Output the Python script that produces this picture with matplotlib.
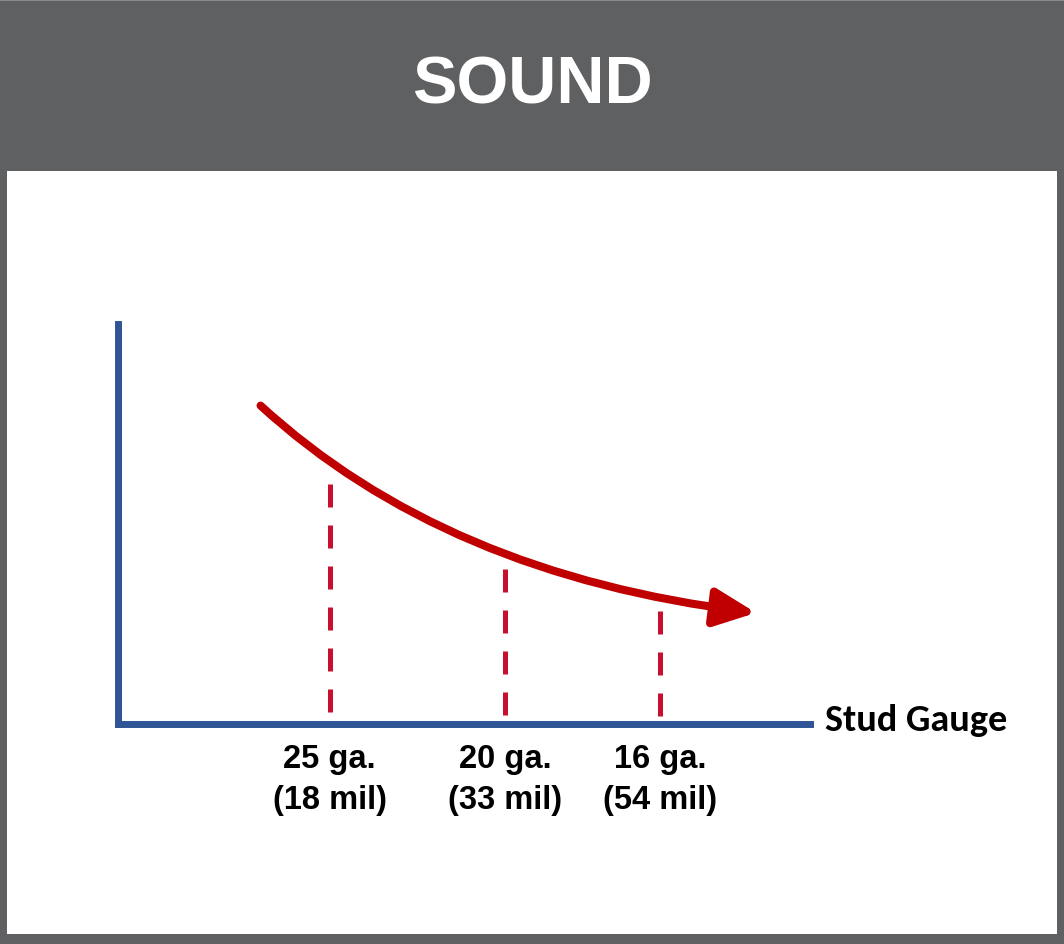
import numpy as np
import matplotlib
matplotlib.use('Agg')
import matplotlib.pyplot as plt
from matplotlib.path import Path
from matplotlib.patches import FancyArrowPatch, Rectangle

# --- Data (axis units 0-100)
title = 'SOUND'
xlabel = 'Stud Gauge'
gauges = ['25 ga.\n(18 mil)', '20 ga.\n(33 mil)', '16 ga.\n(54 mil)']
gauge_x = [30.6, 55.9, 78.3]
gauge_top = [60.0, 38.8, 28.3]
# trend curve: start, bezier control, arrow tip
curve_x = [20.6, 47.2, 92.2]
curve_y = [79.6, 37.4, 27.8]

# --- Colors
c_frame = '#5f6062'
c_axis = '#2f5597'
c_curve = '#c00000'
c_dash = '#c8102e'

W, H = 1064, 945
fig = plt.figure(figsize=(W/100, H/100), dpi=100)
fig.patch.set_facecolor(c_frame)

# white panel
bg = fig.add_axes([0, 0, 1, 1])
bg.set_xlim(0, W); bg.set_ylim(H, 0); bg.axis('off')
bg.add_patch(Rectangle((7, 172), 1050, 763, facecolor='white', edgecolor='none'))
bg.add_patch(Rectangle((0, 0), W, 2, facecolor='#8a8b8d', edgecolor='none'))
bg.text(532, 86, title, color='white', fontsize=48, fontweight='bold',
        family='Liberation Sans', ha='center', va='center')

# chart axes
x0, y0, x1, y1 = 118, 725, 810, 325
ax = fig.add_axes([x0/W, 1 - y0/H, (x1 - x0)/W, (y0 - y1)/H])
ax.set_xlim(0, 100); ax.set_ylim(0, 100)
ax.patch.set_visible(False)
for s in ['top', 'right']:
    ax.spines[s].set_visible(False)
for s in ['left', 'bottom']:
    ax.spines[s].set_color(c_axis)
    ax.spines[s].set_linewidth(5)
ax.set_xticks([]); ax.set_yticks([])

for gx, gt, lab in zip(gauge_x, gauge_top, gauges):
    ax.plot([gx, gx], [gt, 0.5], color=c_dash, lw=3.6, ls=(0, (4.6, 3.6)),
            solid_capstyle='butt')
    ax.text(gx, -4.8, lab, ha='center', va='top', fontsize=23.5, fontweight='bold',
            family=['Liberation Sans Narrow', 'Liberation Sans'], linespacing=1.42)

path = Path(list(zip(curve_x, curve_y)), [Path.MOVETO, Path.CURVE3, Path.CURVE3])
arrow = FancyArrowPatch(path=path, arrowstyle='-|>,head_length=25,head_width=11.5',
                        color=c_curve, lw=5.8, transform=ax.transData,
                        shrinkA=0, shrinkB=0)
ax.add_patch(arrow)

ax.text(102.2, 1.0, xlabel, ha='left', va='center', fontsize=27.5, fontweight='bold',
        family=['Carlito', 'Lato', 'DejaVu Sans'])

fig.savefig('out.png', dpi=100, facecolor=c_frame)
